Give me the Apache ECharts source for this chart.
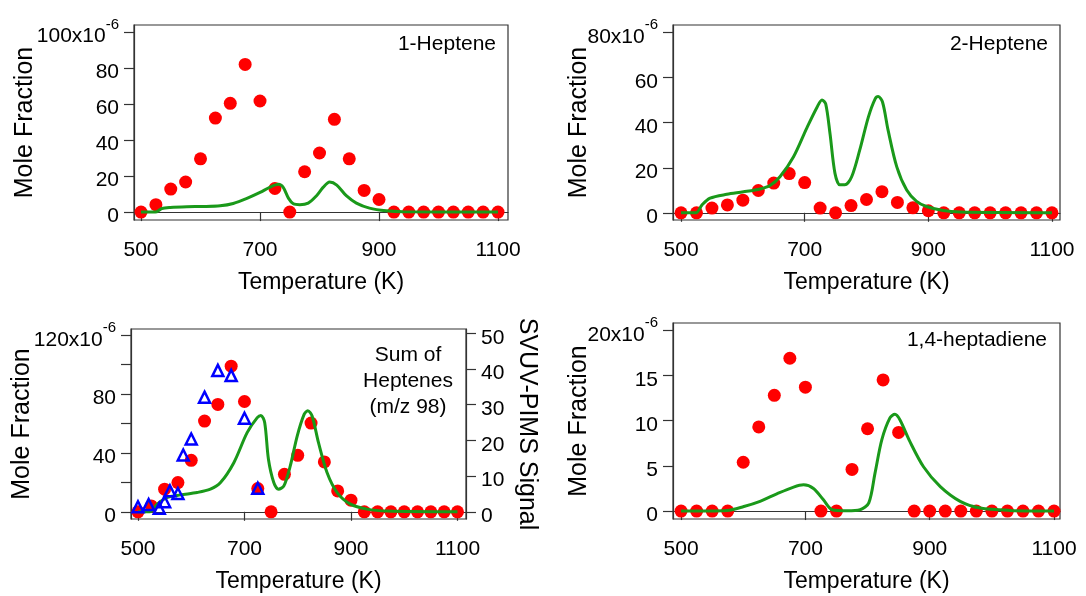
<!DOCTYPE html>
<html><head><meta charset="utf-8">
<script src="https://cdn.jsdelivr.net/npm/echarts@6/dist/echarts.min.js"></script>
<style>html,body{margin:0;padding:0;background:#fff}#c{width:1086px;height:596px}</style>
</head><body><div id="c"></div>
<script>
// ---------- data ----------
const temps = [500,525,550,575,600,625,650,675,700,725,750,775,800,825,850,875,900,925,950,975,1000,1025,1050,1075,1100];
const heptene1 = [0,4.1,12.8,16.7,29.6,52.2,60.4,82,61.7,13.1,0,22.4,32.8,51.5,29.6,12,7,0,0,0,0,0,0,0,0];
const heptene2 = [0,0,2.1,3.5,5.6,9.9,13.2,17.4,13.4,2.1,0,3.2,5.9,9.4,4.6,2.2,0.9,0,0,0,0,0,0,0,0];
const heptSum = [0,4,15.4,19.9,35,61.7,73,99,75,15.8,0,25.5,38.4,60.3,33.9,14.2,7.9,0,0,0,0,0,0,0,0];
const heptadiene = [0,0,0,0,5.4,9.3,12.8,16.9,13.7,0,0,4.6,9.1,14.5,8.7,0,0,0,0,0,0,0,0,0,0];

const svuvT = [500,520,540,550,560,575,585,600,625,650,675,700,725];
const svuvSignal = [1.4,2.0,1.0,2.8,5.9,5.1,15.9,20.4,32.1,39.6,38.2,26.2,6.6];

const model1T = [500,524,535,549,577,605,633,655,678,700,717,731,739,748,756,767,781,795,806,817,829,845,862,884,912,940,1100];
const model1 = [0,0,2.0,2.6,3.0,3.1,3.5,4.8,7.6,10.9,13.9,15.4,13.7,7.6,4.6,4.1,5.0,9.1,13.7,16.7,15.0,9.1,5.0,2.2,0.7,0.2,0];
const model2T = [500,524,534,547,574,601,628,644,660,682,703,720,728,734,741,749,757,765,776,789,803,814,819,826,835,849,865,881,897,924,951,1100];
const model2 = [0,0,3.5,6.5,8.2,9.3,10.6,12.1,16.0,24.9,37.4,46.9,50.1,48.4,35.1,17.5,12.4,12.4,16,27.8,42.5,50.6,51.6,49.1,36.6,20.4,10.1,5.1,2.8,1.0,0.3,0];
const model3T = [500,523,536,554,580,611,636,655,680,705,724,731,738,745,755,764,774,786,799,812,819,827,839,855,874,899,930,968,1100];
const model3 = [0,0,5.2,9.7,11.5,13.1,15.4,19.9,33.4,53.8,64,65.5,60.6,35.7,19.9,15.4,17.6,31.2,51.5,66.2,68.7,65.1,47,26.7,13.1,5.2,1.8,0.5,0];
const model4T = [500,574,601,627,654,681,697,713,729,743,767,788,802,812,823,836,844,852,868,890,917,949,981,1029,1100];
const model4 = [0,0.07,0.5,1.07,1.9,2.65,2.9,2.5,1.25,0.15,0.04,0.15,0.9,4.2,7.9,10.3,10.7,10.1,7.7,4.9,2.7,1.07,0.33,0.07,0];

const xTicks = [500,700,900,1100];
const panelTitles = ['1-Heptene','2-Heptene','Sum of\nHeptenes\n(m/z 98)','1,4-heptadiene'];

// ---------- helpers ----------
const FONT = '"Liberation Sans", Arial, sans-serif';
const AX = '#333';
const pairs = (xs, ys) => xs.map((x, i) => [x, ys[i]]);

function xAxis(gi, min, max) {
  return {
    type: 'value', gridIndex: gi, min, max, position: 'bottom',
    name: 'Temperature (K)', nameLocation: 'middle', nameGap: 51, nameMoveOverlap: false,
    nameTextStyle: { fontSize: 23, fontFamily: FONT, color: '#000' },
    axisLine: { show: true, lineStyle: { color: AX, width: 1.2 } },
    axisTick: { show: true, inside: false, length: 9, customValues: xTicks, lineStyle: { color: AX, width: 1.2 } },
    axisLabel: { show: true, customValues: xTicks, margin: 20, fontSize: 21, fontFamily: FONT, color: '#000',
      formatter: v => String(v) },
    splitLine: { show: false }
  };
}
function yAxis(gi, min, max, ticks, labels, top, opts) {
  opts = opts || {};
  return Object.assign({
    type: 'value', gridIndex: gi, min, max, position: 'left',
    name: 'Mole Fraction', nameLocation: 'middle', nameGap: 96, nameRotate: 90, nameMoveOverlap: false,
    nameTextStyle: { fontSize: 25, fontFamily: FONT, color: '#000' },
    axisLine: { show: true, lineStyle: { color: AX, width: 1.2 } },
    axisTick: { show: true, inside: false, length: 10, customValues: ticks, lineStyle: { color: AX, width: 1.2 } },
    axisLabel: {
      show: true, customValues: labels, margin: 15, fontFamily: FONT, color: '#000',
      formatter: v => (top !== null && v === top) ? '{n|' + v + 'x10}{s|-6}' : '{n|' + v + '}',
      rich: {
        n: { fontSize: 21, fontFamily: FONT, color: '#000', lineHeight: 30, verticalAlign: 'bottom' },
        s: { fontSize: 15, fontFamily: FONT, color: '#000', lineHeight: 16, verticalAlign: 'top' }
      }
    },
    splitLine: { show: false }
  }, opts);
}
const redDots = (xi, yi, ys) => ({
  type: 'scatter', xAxisIndex: xi, yAxisIndex: yi, data: pairs(temps, ys),
  symbol: 'circle', symbolSize: 13, itemStyle: { color: '#ff0000', opacity: 1 }, z: 2, silent: true
});
const greenLine = (xi, yi, xs, ys) => ({
  type: 'line', xAxisIndex: xi, yAxisIndex: yi, data: pairs(xs, ys),
  showSymbol: false, smooth: 0.3, lineStyle: { color: '#1a991a', width: 3 }, z: 3, silent: true
});

const gridStyle = { show: true, borderColor: AX, borderWidth: 1.2, backgroundColor: 'transparent' };

const option = {
  animation: false,
  backgroundColor: '#fff',
  grid: [
    Object.assign({ left: 134, top: 25, width: 374, height: 195 }, gridStyle),
    Object.assign({ left: 673, top: 25, width: 387, height: 195 }, gridStyle),
    Object.assign({ left: 131, top: 329, width: 335, height: 190 }, gridStyle),
    Object.assign({ left: 673, top: 323, width: 387, height: 196 }, gridStyle)
  ],
  xAxis: [
    xAxis(0, 488.2, 1116.8),
    xAxis(1, 487, 1113),
    xAxis(2, 486.9, 1116),
    xAxis(3, 487, 1109.6)
  ],
  yAxis: [
    yAxis(0, -4.4, 103.9, [0,20,40,60,80,100], [0,20,40,60,80,100], 100),
    yAxis(1, -3.2, 83.4, [0,20,40,60,80], [0,20,40,60,80], 80, { nameGap: 81 }),
    yAxis(2, -4.9, 124.3, [0,20,40,60,80,100,120], [0,40,80,120], 120),
    yAxis(2, -2.03, 51.2, [0,10,20,30,40,50], [0,10,20,30,40,50], null,
      { position: 'right', name: 'SVUV-PIMS Signal', nameRotate: -90, nameGap: 48 }),
    yAxis(3, -0.88, 20.8, [0,5,10,15,20], [0,5,10,15,20], 20, { nameGap: 81 })
  ],
  series: [
    redDots(0, 0, heptene1),
    greenLine(0, 0, model1T, model1),
    redDots(1, 1, heptene2),
    greenLine(1, 1, model2T, model2),
    redDots(2, 2, heptSum),
    greenLine(2, 2, model3T, model3),
    {
      type: 'scatter', xAxisIndex: 2, yAxisIndex: 3, data: pairs(svuvT, svuvSignal),
      symbol: 'triangle', symbolSize: 11,
      itemStyle: { color: 'rgba(0,0,0,0)', borderColor: '#0000ff', borderWidth: 2.5, opacity: 1 }, z: 4, silent: true
    },
    redDots(3, 4, heptadiene),
    greenLine(3, 4, model4T, model4)
  ],
  graphic: [
    { type: 'text', x: 496, y: 44, style: { text: panelTitles[0], font: '21px ' + FONT, fill: '#000', textAlign: 'right', textVerticalAlign: 'middle' } },
    { type: 'text', x: 1048, y: 44, style: { text: panelTitles[1], font: '21px ' + FONT, fill: '#000', textAlign: 'right', textVerticalAlign: 'middle' } },
    { type: 'text', x: 408, y: 381, style: { text: panelTitles[2], font: '21px ' + FONT, fill: '#000', textAlign: 'center', textVerticalAlign: 'middle', lineHeight: 26 } },
    { type: 'text', x: 1047, y: 340, style: { text: panelTitles[3], font: '21px ' + FONT, fill: '#000', textAlign: 'right', textVerticalAlign: 'middle' } }
  ]
};
const chart = echarts.init(document.getElementById('c'), null, { renderer: 'canvas' });
chart.setOption(option);
</script></body></html>
